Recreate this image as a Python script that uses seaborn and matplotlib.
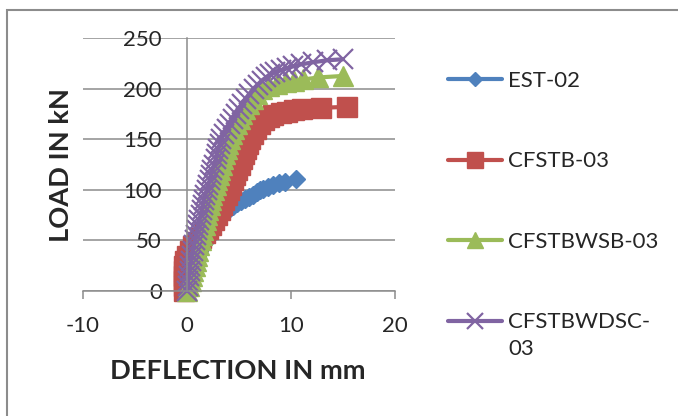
import matplotlib
matplotlib.use("Agg")
import matplotlib.pyplot as plt
from matplotlib.patches import Rectangle
import seaborn as sns

# deflection (mm) / load (kN)
est_x = [0, 0.1, 0.2, 0.35, 0.5, 0.65, 0.8, 1.0, 1.2, 1.4, 1.7, 2.0, 2.2, 2.5, 2.7, 3.0, 3.2,
         3.5, 3.8, 4.1, 4.4, 4.8, 5.2, 5.6, 6.0, 6.3, 6.7, 7.0, 7.3, 7.8, 8.3, 8.8, 9.4, 10.5]
est_y = [0, 5, 10, 15, 20, 25, 30, 35, 40, 44, 48, 52, 57, 62, 66, 70, 74,
         77, 80, 82, 84, 87, 89, 91, 93, 95, 98, 100, 101, 103, 105, 107, 108, 111]

cfstb_x = [-0.3, -0.3, -0.3, -0.3, -0.3, -0.25, -0.2, 0, 0.3, 0.6, 1.0, 1.3, 1.7, 2.0, 2.3,
           2.6, 2.9, 3.2, 3.4, 3.6, 3.8, 4.0, 4.2, 4.4, 4.65, 4.85, 5.05, 5.25, 5.45, 5.65,
           5.85, 6.1, 6.35, 6.65, 7.0, 7.4, 7.85, 8.3, 9.0, 9.6, 10.3, 11.1, 12.9, 15.4]
cfstb_y = [0, 5, 10, 15, 20, 25, 30, 35, 40, 44, 48, 52, 57, 61, 65,
           70, 75, 80, 85, 90, 95, 100, 105, 110, 115, 120, 125, 130, 135, 140,
           145, 150, 155, 160, 165, 169, 172, 174, 176, 177, 179, 180, 181, 182]

wsb_x = [0.0, 0.2, 0.35, 0.5, 0.6, 0.75, 0.85, 0.95, 1.05, 1.2, 1.3, 1.45, 1.55, 1.7, 1.8,
         1.95, 2.05, 2.2, 2.3, 2.45, 2.6, 2.75, 2.9, 3.05, 3.2, 3.35, 3.5, 3.65, 3.8, 3.95,
         4.1, 4.35, 4.55, 4.8, 5.05, 5.3, 5.6, 5.95, 6.3, 6.75, 7.2, 7.9, 8.7, 9.5, 10.3,
         11.2, 12.6, 15.0]
wsb_y = [0, 5, 10, 15, 20, 25, 30, 35, 40, 45, 50, 55, 60, 65, 70,
         75, 80, 85, 90, 95, 100, 105, 110, 115, 120, 125, 130, 135, 140, 145,
         150, 155, 160, 165, 170, 175, 180, 185, 190, 195, 200, 203, 205, 207, 208,
         209, 211, 212.5]

wdsc_x = [0.0, 0.05, 0.1, 0.15, 0.25, 0.3, 0.4, 0.45, 0.55, 0.65, 0.8, 0.9, 1.0, 1.1, 1.2,
          1.3, 1.4, 1.5, 1.6, 1.75, 1.95, 2.05, 2.2, 2.3, 2.45, 2.6, 2.75, 2.85, 3.0, 3.15,
          3.3, 3.55, 3.8, 4.1, 4.4, 4.7, 5.0, 5.3, 5.65, 6.0, 6.4, 6.8, 7.2, 7.6, 8.0,
          8.5, 9.0, 9.6, 10.2, 11.0, 12.1, 13.5, 15.0]
wdsc_y = [0, 5, 10, 15, 20, 25, 30, 35, 40, 45, 50, 55, 60, 65, 70,
          75, 80, 85, 90, 95, 100, 105, 110, 115, 120, 125, 130, 135, 140, 145,
          150, 155, 160, 165, 170, 175, 180, 185, 190, 195, 200, 204, 208, 211, 214,
          216, 218, 220, 222, 224, 226, 228, 229]

series = [
    ("EST-02", est_x, est_y, "#4F81BD", "D", 9.5, 1.0),
    ("CFSTB-03", cfstb_x, cfstb_y, "#C0504D", "s", 14, 1.0),
    ("CFSTBWSB-03", wsb_x, wsb_y, "#9BBB59", "^", 14, 1.0),
    ("CFSTBWDSC-", wdsc_x, wdsc_y, "#8064A2", "x", 14, 1.6),
]

FONT = "Lato"
sns.set_style("white")
plt.rcParams["font.family"] = [FONT, "DejaVu Sans"]
plt.rcParams["axes.unicode_minus"] = False

fig = plt.figure(figsize=(6.78, 4.16), dpi=100)
ax = fig.add_axes([83 / 678, 125 / 416, 312 / 678, 253 / 416])

for name, xs, ys, col, mk, ms, mew in series:
    sns.lineplot(x=xs, y=ys, ax=ax, color=col, lw=3, marker=mk, markersize=ms,
                 markeredgecolor=col, markerfacecolor=col, markeredgewidth=mew,
                 sort=False, estimator=None, label=name, clip_on=False)

ax.set_xlim(-10, 20)
ax.set_ylim(0, 250)
ax.set_xticks([-10, 0, 10, 20])
ax.set_yticks([0, 50, 100, 150, 200, 250])
ax.yaxis.grid(True, color="#8c8c8c", lw=1.1)
ax.xaxis.grid(False)
ax.set_axisbelow(True)

for s in ("top", "right"):
    ax.spines[s].set_visible(False)
ax.spines["left"].set_position(("data", 0))
ax.spines["left"].set_color("#8c8c8c")
ax.spines["bottom"].set_color("#8c8c8c")
ax.spines["left"].set_linewidth(1.1)
ax.spines["bottom"].set_linewidth(1.1)

ax.tick_params(axis="x", direction="out", length=6, width=1.1, color="#8c8c8c",
               pad=12, labelsize=16, bottom=True)
ax.tick_params(axis="y", length=0, pad=18, labelsize=16)

ax.set_xlabel("")
ax.set_ylabel("")
fig.text(238 / 678, 1 - 371 / 416, "DEFLECTION IN mm", ha="center", va="center",
         fontsize=19.6, fontweight="bold")
fig.text(61 / 678, 1 - 165 / 416, "LOAD IN kN", ha="center", va="center",
         rotation=90, fontsize=19.6, fontweight="bold")

leg = ax.legend(loc="upper left", bbox_to_anchor=(448 / 678, 1 - 71 / 416),
                bbox_transform=fig.transFigure, frameon=False, fontsize=16,
                handlelength=2.45, handletextpad=0.25, labelspacing=2.72,
                markerscale=0.8, borderpad=0, borderaxespad=0)
ax.annotate("03", xy=(0, 0), xycoords=leg.get_texts()[3], xytext=(0, -7),
            textcoords="offset pixels", ha="left", va="top", fontsize=16,
            annotation_clip=False, zorder=10)

fig.patches.append(Rectangle((6.5 / 678, -0.05), 1.2, 1.05 - 9.5 / 416,
                             transform=fig.transFigure, fill=False,
                             ec="#8c8c8c", lw=1.5))

fig.savefig("out.png", dpi=100)
